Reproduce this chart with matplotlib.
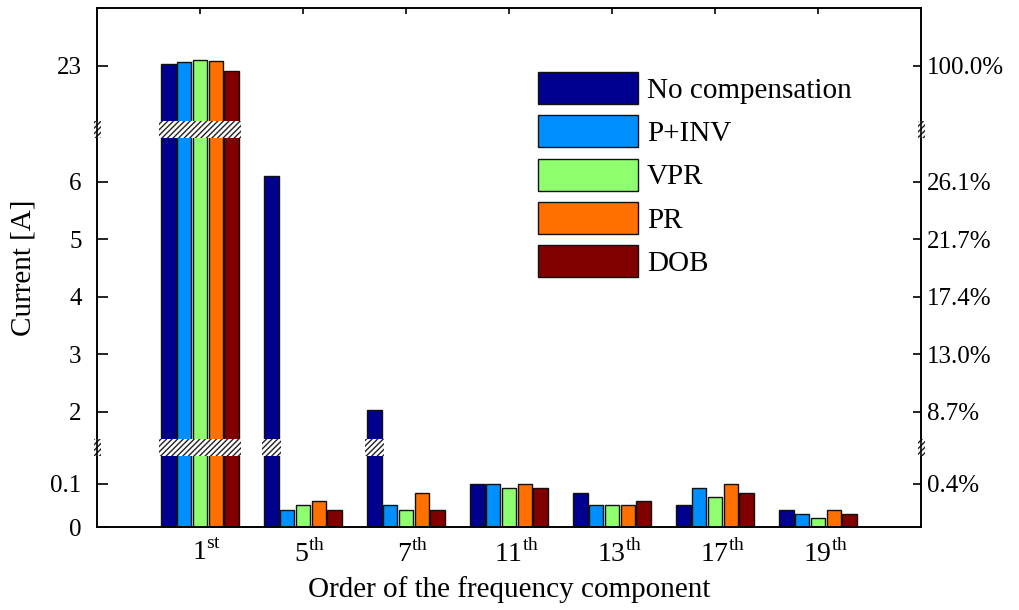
import numpy as np
import matplotlib
matplotlib.use('Agg')
import matplotlib.pyplot as plt
from matplotlib.patches import Rectangle
from matplotlib.transforms import ScaledTranslation, blended_transform_factory

plt.rcParams['font.family'] = 'Liberation Serif'
plt.rcParams['mathtext.fontset'] = 'custom'
plt.rcParams['mathtext.rm'] = 'Liberation Serif'
plt.rcParams['font.size'] = 18
plt.rcParams['hatch.linewidth'] = 1.0

# harmonic currents [A]
orders  = ['1', '5', '7', '11', '13', '17', '19']
suffix  = ['st', 'th', 'th', 'th', 'th', 'th', 'th']
no_comp = [23.04, 6.10, 2.03, 0.10, 0.08, 0.05, 0.04]
p_inv   = [23.07, 0.04, 0.05, 0.10, 0.05, 0.09, 0.03]
vpr     = [23.11, 0.05, 0.04, 0.09, 0.05, 0.07, 0.02]
pr      = [23.08, 0.06, 0.08, 0.10, 0.05, 0.10, 0.04]
dob     = [22.92, 0.04, 0.04, 0.09, 0.06, 0.08, 0.03]
labels  = ['No compensation', 'P+INV', 'VPR', 'PR', 'DOB']
colors  = ['#00008F', '#008FFF', '#8FFF70', '#FF7000', '#800000']
fundamental = 23.0

left_ticks  = [0, 0.1, 2, 3, 4, 5, 6, 23]
right_ticks = [0.1, 2, 3, 4, 5, 6, 23]

# broken y axis: piecewise linear scale, gaps squeezed into the hatched bands
knot_val = np.array([0, 0.165, 1.53, 6.765, 22.04, 24.01])
knot_pos = np.array([0, 71, 88, 389, 406, 519], dtype=float)
breaks = [(0.165, 1.53), (6.765, 22.04)]

def fwd(v):
    return np.interp(v, knot_val, knot_pos)

def inv(p):
    return np.interp(p, knot_pos, knot_val)

fig = plt.figure(figsize=(10.19, 6.10), dpi=100)
ax = fig.add_axes([97 / 1019, 1 - 527 / 610, 824 / 1019, 519 / 610])
ax.set_yscale('function', functions=(fwd, inv))

series = [no_comp, p_inv, vpr, pr, dob]
x = np.arange(1, len(orders) + 1)
step, width = 0.153, 0.14
handles = []
for i, (vals, lab, c) in enumerate(zip(series, labels, colors)):
    b = ax.bar(x + (i - 2) * step, vals, width, color=c, edgecolor='#111111',
               linewidth=1.0, label=lab, zorder=2)
    handles.append(b)

# hatched bands where bars pass through a break
tr = blended_transform_factory(ax.transAxes, ax.transData)
for lo, hi in breaks:
    for g in range(len(orders)):
        tall = [i for i, s in enumerate(series) if s[g] > hi]
        if not tall:
            continue
        x0 = x[g] + (min(tall) - 2) * step - width / 2 - 0.02
        x1 = x[g] + (max(tall) - 2) * step + width / 2 + 0.02
        ax.add_patch(Rectangle((x0, lo), x1 - x0, hi - lo, facecolor='white',
                               edgecolor='#222222', linewidth=0, hatch='//////',
                               zorder=3))
    # break marks on both spines
    for xs in (-0.004, 0.996):
        ax.add_patch(Rectangle((xs, lo), 0.009, hi - lo, transform=tr,
                               facecolor='white', edgecolor='#222222',
                               linewidth=0, hatch='//////', clip_on=False,
                               zorder=5))

ax.set_xlim(0, 8)
ax.set_ylim(0, 24.01)
ax.set_yticks(left_ticks)
ax.set_yticklabels([f'{t:g}' for t in left_ticks])
ax.tick_params(axis='y', direction='in', length=8, width=1.2, pad=11)
ax.set_xticks(x)
ax.set_xticklabels([f'{o}$^{{\\mathrm{{{s}}}}}$' for o, s in zip(orders, suffix)],
                   fontsize=20)
ax.tick_params(axis='x', bottom=False, top=True, direction='in', length=4,
               width=1.2, pad=9)
for lab in ax.get_xticklabels():
    lab.set_transform(lab.get_transform() + ScaledTranslation(7 / 100, 0, fig.dpi_scale_trans))
for sp in ax.spines.values():
    sp.set_linewidth(1.2)

ax2 = ax.twinx()
ax2.set_yscale('function', functions=(fwd, inv))
ax2.set_ylim(ax.get_ylim())
ax2.set_yticks(right_ticks)
ax2.set_yticklabels([f'{t / fundamental * 100:.1f}%' for t in right_ticks])
ax2.tick_params(axis='y', direction='in', length=6, width=1.2, pad=4)
for sp in ax2.spines.values():
    sp.set_linewidth(1.2)

ax.set_xlabel('Order of the frequency component', fontsize=21, labelpad=6)
ax.set_ylabel('Current [A]', fontsize=21, labelpad=10)

ax2.legend(handles=handles, loc='upper left', frameon=False, borderpad=0,
           borderaxespad=0, fontsize=21,
           bbox_to_anchor=(538 / 1019, 1 - 72 / 610),
           bbox_transform=fig.transFigure, handlelength=3.43, handleheight=1.32,
           labelspacing=0.38, handletextpad=0.31)

fig.savefig('out.png', dpi=100)
